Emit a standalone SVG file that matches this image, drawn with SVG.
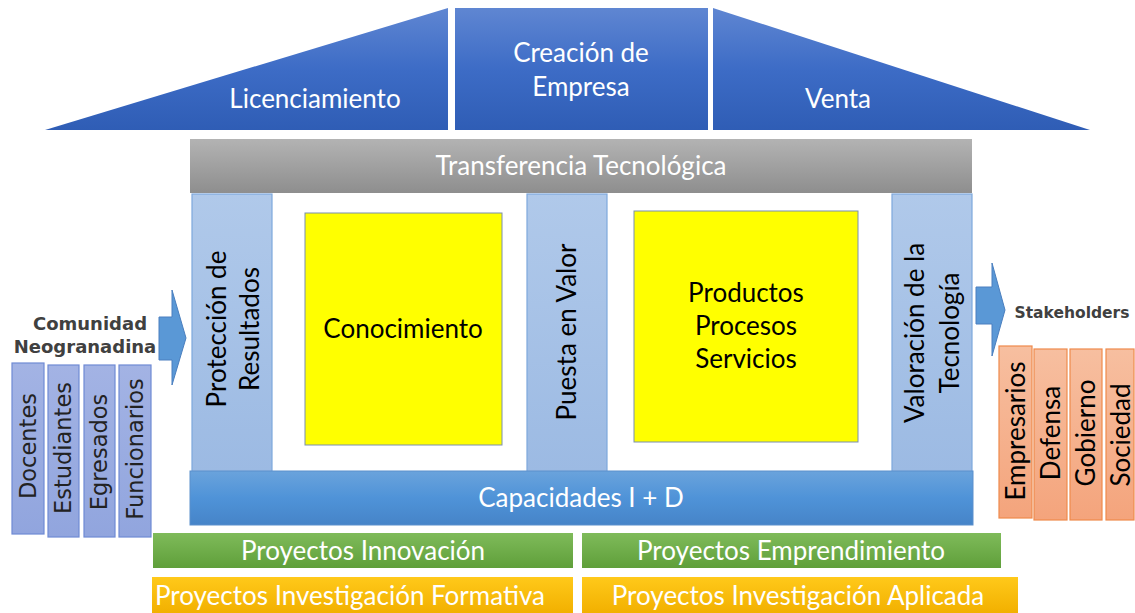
<svg xmlns="http://www.w3.org/2000/svg" width="1135" height="613" viewBox="0 0 1135 613">
<defs>
  <linearGradient id="gRoof" x1="0" y1="0" x2="0" y2="1">
    <stop offset="0" stop-color="#5f86d2"/><stop offset="0.5" stop-color="#3d6cc6"/><stop offset="1" stop-color="#2f5db5"/>
  </linearGradient>
  <linearGradient id="gGrey" x1="0" y1="0" x2="0" y2="1">
    <stop offset="0" stop-color="#b3b3b3"/><stop offset="1" stop-color="#8e8e8e"/>
  </linearGradient>
  <linearGradient id="gPillar" x1="0" y1="0" x2="0" y2="1">
    <stop offset="0" stop-color="#b0c9ea"/><stop offset="1" stop-color="#9cbae3"/>
  </linearGradient>
  <linearGradient id="gCap" x1="0" y1="0" x2="0" y2="1">
    <stop offset="0" stop-color="#6aa3dc"/><stop offset="0.5" stop-color="#4f93d8"/><stop offset="1" stop-color="#4684c8"/>
  </linearGradient>
  <linearGradient id="gGreen" x1="0" y1="0" x2="0" y2="1">
    <stop offset="0" stop-color="#7fbb5a"/><stop offset="1" stop-color="#5f9f3a"/>
  </linearGradient>
  <linearGradient id="gOrange" x1="0" y1="0" x2="0" y2="1">
    <stop offset="0" stop-color="#ffc91a"/><stop offset="1" stop-color="#f2b000"/>
  </linearGradient>
  <linearGradient id="gLeft" x1="0" y1="0" x2="0" y2="1">
    <stop offset="0" stop-color="#a3b3e4"/><stop offset="1" stop-color="#91a5de"/>
  </linearGradient>
  <linearGradient id="gRight" x1="0" y1="0" x2="0" y2="1">
    <stop offset="0" stop-color="#f7bfa0"/><stop offset="1" stop-color="#f4a47c"/>
  </linearGradient>
  <style>
    .roof{fill:url(#gRoof);}
    .wt{fill:#ffffff;font-family:Lato,"Liberation Sans",sans-serif;font-size:26px;text-anchor:middle;}
    .bt{fill:#000000;font-family:Lato,"Liberation Sans",sans-serif;font-size:26px;text-anchor:middle;}
    .pillar{fill:url(#gPillar);stroke:#7ea8dc;stroke-width:1.2;}
    .yellow{fill:#ffff00;stroke:#7a8fb0;stroke-width:1;}
    .arrow{fill:#5a98d6;stroke:#4a7fbf;stroke-width:1;}
    .lbox{fill:url(#gLeft);stroke:#6f8ad4;stroke-width:1.2;}
    .rbox{fill:url(#gRight);stroke:#ee8a4c;stroke-width:1.2;}
    .gt{fill:#222222;font-family:"DejaVu Sans","Noto Sans",sans-serif;font-size:22.5px;text-anchor:middle;}
    .hd{fill:#404040;font-family:"DejaVu Sans","Noto Sans",sans-serif;font-weight:bold;font-size:18px;text-anchor:middle;}
    .hs{fill:#404040;font-family:"DejaVu Sans","Noto Sans",sans-serif;font-weight:bold;font-size:15.5px;text-anchor:middle;}
  </style>
</defs>

<g id="roof-licenciamiento">
  <polygon class="roof" points="45,130 448,8 448,130"/>
  <text class="wt" x="315" y="108">Licenciamiento</text>
</g>
<g id="roof-creacion">
  <rect class="roof" x="455" y="8" width="253" height="122"/>
  <text class="wt" x="581" y="62">Creación de</text>
  <text class="wt" x="581" y="96">Empresa</text>
</g>
<g id="roof-venta">
  <polygon class="roof" points="713,8 713,130 1090,130"/>
  <text class="wt" x="838" y="108">Venta</text>
</g>

<g id="transferencia">
  <rect x="190" y="139" width="782" height="54" fill="url(#gGrey)"/>
  <text class="wt" x="581" y="175">Transferencia Tecnológica</text>
</g>

<g id="proteccion">
  <rect class="pillar" x="192" y="194" width="80" height="278"/>
  <text class="bt" transform="translate(217,329) rotate(-90)" dy="0.35em">Protección de</text>
  <text class="bt" transform="translate(250,329) rotate(-90)" dy="0.35em">Resultados</text>
</g>
<g id="conocimiento">
  <rect class="yellow" x="305" y="213" width="197" height="232"/>
  <text class="bt" x="403" y="338">Conocimiento</text>
</g>
<g id="puesta">
  <rect class="pillar" x="527" y="194" width="80" height="278"/>
  <text class="bt" transform="translate(567,332) rotate(-90)" dy="0.35em">Puesta en Valor</text>
</g>
<g id="productos">
  <rect class="yellow" x="634" y="211" width="224" height="231"/>
  <text class="bt" x="746" y="302">Productos</text>
  <text class="bt" x="746" y="335">Procesos</text>
  <text class="bt" x="746" y="368">Servicios</text>
</g>
<g id="valoracion">
  <rect class="pillar" x="892" y="194" width="80" height="278"/>
  <text class="bt" transform="translate(915,333) rotate(-90)" dy="0.35em">Valoración de la</text>
  <text class="bt" transform="translate(950,333) rotate(-90)" dy="0.35em">Tecnología</text>
</g>

<g id="capacidades">
  <rect x="190" y="471" width="783" height="54" fill="url(#gCap)" stroke="#5a8fcc" stroke-width="1"/>
  <text class="wt" x="581" y="507">Capacidades I + D</text>
</g>

<g id="innovacion">
  <rect x="153" y="533" width="420" height="35" fill="url(#gGreen)"/>
  <text class="wt" x="363" y="560">Proyectos Innovación</text>
</g>
<g id="emprendimiento">
  <rect x="582" y="533" width="419" height="35" fill="url(#gGreen)"/>
  <text class="wt" x="791" y="560">Proyectos Emprendimiento</text>
</g>
<g id="formativa">
  <rect x="152" y="577" width="421" height="36" fill="url(#gOrange)"/>
  <text class="wt" x="350" y="605">Proyectos Investigación Formativa</text>
</g>
<g id="aplicada">
  <rect x="582" y="577" width="436" height="36" fill="url(#gOrange)"/>
  <text class="wt" x="798" y="605">Proyectos Investigación Aplicada</text>
</g>

<g id="comunidad">
  <text class="hd" x="90" y="330">Comunidad</text>
  <text class="hd" x="85" y="353">Neogranadina</text>
  <rect class="lbox" x="12" y="363" width="32" height="171"/>
  <text class="gt" transform="translate(28,446) rotate(-90)" dy="0.35em">Docentes</text>
  <rect class="lbox" x="48" y="365" width="31" height="172"/>
  <text class="gt" transform="translate(63,448) rotate(-90)" dy="0.35em">Estudiantes</text>
  <rect class="lbox" x="84" y="365" width="31" height="172"/>
  <text class="gt" transform="translate(99,452) rotate(-90)" dy="0.35em">Egresados</text>
  <rect class="lbox" x="119" y="365" width="32" height="172"/>
  <text class="gt" transform="translate(135,449) rotate(-90)" dy="0.35em">Funcionarios</text>
</g>

<g id="stakeholders">
  <text class="hs" x="1072" y="318">Stakeholders</text>
  <rect class="rbox" x="999" y="346" width="33" height="172"/>
  <text class="bt" transform="translate(1016,431) rotate(-90)" dy="0.35em">Empresarios</text>
  <rect class="rbox" x="1034" y="349" width="33" height="171"/>
  <text class="bt" transform="translate(1051,433) rotate(-90)" dy="0.35em">Defensa</text>
  <rect class="rbox" x="1070" y="349" width="32" height="171"/>
  <text class="bt" transform="translate(1086,433) rotate(-90)" dy="0.35em">Gobierno</text>
  <rect class="rbox" x="1106" y="349" width="28" height="171"/>
  <text class="bt" transform="translate(1121,435) rotate(-90)" dy="0.35em">Sociedad</text>
</g>

<g id="connectors">
  <polygon class="arrow" points="159,317 172,317 172,290 186,338 172,385 172,360 159,360"/>
  <polygon class="arrow" points="976,287 992,287 992,263 1005,310 992,356 992,324 976,324"/>
</g>
</svg>
